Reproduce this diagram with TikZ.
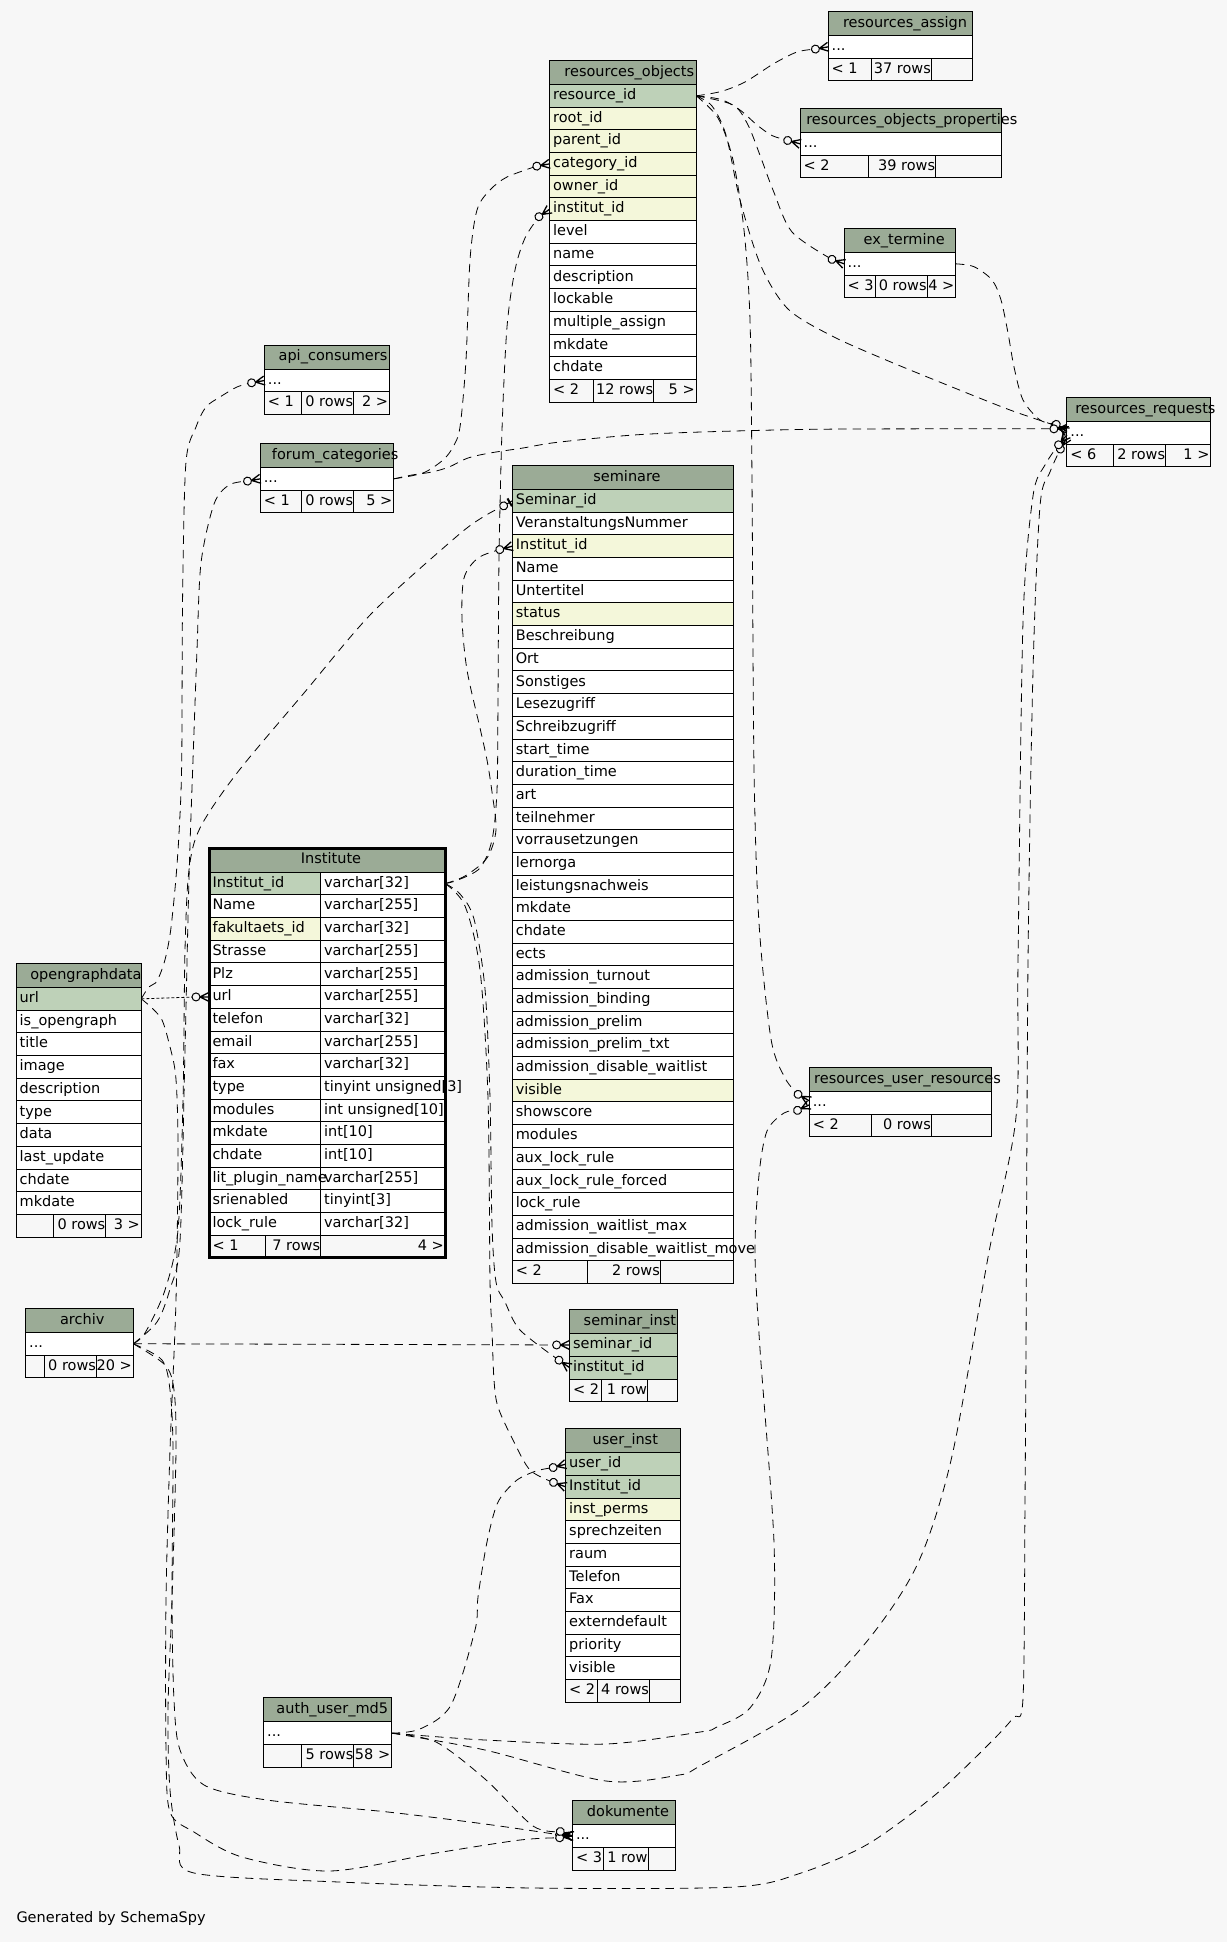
\documentclass[tikz,border=0pt]{standalone}
\usepackage{fontspec}
\setmainfont{DejaVu Sans}
\definecolor{bgc}{HTML}{F7F7F7}
\definecolor{hdrc}{HTML}{9BAB96}
\definecolor{pkc}{HTML}{BED1B8}
\definecolor{fkc}{HTML}{F4F7DA}
\pgfdeclarelayer{bglayer}
\pgfdeclarelayer{edgelayer}
\pgfsetlayers{bglayer,edgelayer,main}
\newcommand\tblfont{\fontsize{14.5pt}{17pt}\selectfont}
\newcommand\threedots{...}
\tikzset{
  cell/.style={draw=black, line width=0.9pt, inner sep=0pt, outer sep=0pt, minimum height=22.68pt, anchor=north west},
  hdrcell/.style={cell, fill=hdrc, minimum height=24.2pt},
  txt/.style={inner sep=0pt, outer sep=0pt, anchor=west, text height=10.5pt, text depth=3pt, font=\tblfont},
  rel/.style={line width=0.8pt, dash pattern=on 8.5pt off 6pt},
  reldot/.style={line width=0.8pt, dash pattern=on 3pt off 2pt},
  mk/.style={line width=1pt, solid},
  crow/.style={line width=1.3pt, solid},
}
\newcommand\dbhead[6]{%
  \node[hdrcell, minimum width={#3-#2}] (#1-h) at ({#2},{#4}) {};
  \node[txt, anchor=center] (#1-ht) at ({#5},{#4+12.1}) {#6};}
\newcommand\dbrows[5]{%
  \foreach[count=\i] \rt/\rf in {#5}{%
    \node[cell, fill=\rf, minimum width={#3-#2}] (#1-\i) at ({#2},{#4+(\i-1)*22.68}) {};
    \node[txt] (#1-\i-t) at ([xshift=3.5pt]#1-\i.west) {\rt};}}
\newcommand\dbfoot[9]{%
  \node[cell, fill=bgc, minimum width={#3-#2}] (#1-f1) at ({#2},{#6}) {};
  \node[cell, fill=bgc, minimum width={#4-#3}] (#1-f2) at ({#3},{#6}) {};
  \node[cell, fill=bgc, minimum width={#5-#4}] (#1-f3) at ({#4},{#6}) {};
  \node[txt] (#1-f1t) at ([xshift=3.5pt]#1-f1.west) {#7};
  \node[txt, anchor=east] (#1-f2t) at ([xshift=-0.5pt]#1-f2.east) {#8};
  \node[txt, anchor=east] (#1-f3t) at ([xshift=-1.5pt]#1-f3.east) {#9};}
% crow's foot with open circle; defines coordinate #3 at the circle centre
\newcommand\crowmark[3][0]{%
  \begin{scope}[shift={(#2)}, rotate=#1]
    \draw[crow] (-9pt,0pt) -- (0pt,4.5pt) (-9pt,0pt) -- (0pt,-4.5pt) (-9pt,0pt) -- (0pt,0pt);
    \draw[mk, fill=bgc] (-13pt,0pt) circle[radius=4pt];
    \coordinate (#3) at (-13pt,0pt);
  \end{scope}}
% bar with open circle (zero or one)
\newcommand\onemark[3][0]{%
  \begin{scope}[shift={(#2)}, rotate=#1]
    \draw[mk] (-10pt,0pt) -- (0pt,0pt);
    \draw[line width=2pt] (-3pt,-4.5pt) -- (-3pt,4.5pt);
    \draw[mk, fill=bgc] (-10pt,0pt) circle[radius=4pt];
    \coordinate (#3) at (-10pt,0pt);
  \end{scope}}

\begin{document}
\begin{tikzpicture}[x=1pt,y=-1pt]
\begin{pgfonlayer}{bglayer}
\fill[bgc] (0,0) rectangle (1227,1942);
\end{pgfonlayer}
\useasboundingbox (0,0) rectangle (1227,1942);

% ---------- tables ----------
\dbhead{ra}{828.2}{972.2}{11.3}{905}{resources\_assign}
\dbrows{ra}{828.2}{972.2}{35.5}{\threedots/white}
\dbfoot{ra}{828.2}{871.3}{931.3}{972.2}{58.18}{< 1}{37 rows}{}

\dbhead{ro}{549.6}{696.2}{60.3}{629.3}{resources\_objects}
\dbrows{ro}{549.6}{696.2}{84.5}{resource\_id/pkc, root\_id/fkc, parent\_id/fkc, category\_id/fkc, owner\_id/fkc, institut\_id/fkc, level/white, name/white, description/white, lockable/white, multiple\_assign/white, mkdate/white, chdate/white}
\dbfoot{ro}{549.6}{593.6}{653.6}{696.2}{379.34}{< 2}{12 rows}{5 >}

\dbhead{rop}{800.2}{1001.1}{108.3}{911.8}{resources\_objects\_properties}
\dbrows{rop}{800.2}{1001.1}{132.5}{\threedots/white}
\dbfoot{rop}{800.2}{868.7}{935.6}{1001.1}{155.18}{< 2}{39 rows}{}

\dbhead{ex}{844.2}{955.8}{228.3}{904.2}{ex\_termine}
\dbrows{ex}{844.2}{955.8}{252.5}{\threedots/white}
\dbfoot{ex}{844.2}{875.3}{927.1}{955.8}{275.18}{< 3}{0 rows}{4 >}

\dbhead{rr}{1066.9}{1210.9}{397.3}{1145.4}{resources\_requests}
\dbrows{rr}{1066.9}{1210.9}{421.5}{\threedots/white}
\dbfoot{rr}{1066.9}{1113.6}{1165.6}{1210.9}{444.18}{< 6}{2 rows}{1 >}

\dbhead{api}{264.4}{389.5}{345}{333}{api\_consumers}
\dbrows{api}{264.4}{389.5}{369.2}{\threedots/white}
\dbfoot{api}{264.4}{301.2}{353.6}{389.5}{391.88}{< 1}{0 rows}{2 >}

\dbhead{fc}{260.3}{393.8}{443.3}{335.2}{forum\_categories}
\dbrows{fc}{260.3}{393.8}{467.5}{\threedots/white}
\dbfoot{fc}{260.3}{301.2}{353.6}{393.8}{490.18}{< 1}{0 rows}{5 >}

\dbhead{sem}{512.3}{733.3}{465.3}{627}{seminare}
\dbrows{sem}{512.3}{733.3}{489.5}{Seminar\_id/pkc, VeranstaltungsNummer/white, Institut\_id/fkc, Name/white, Untertitel/white, status/fkc, Beschreibung/white, Ort/white, Sonstiges/white, Lesezugriff/white, Schreibzugriff/white, start\_time/white, duration\_time/white, art/white, teilnehmer/white, vorrausetzungen/white, lernorga/white, leistungsnachweis/white, mkdate/white, chdate/white, ects/white, admission\_turnout/white, admission\_binding/white, admission\_prelim/white, admission\_prelim\_txt/white, admission\_disable\_waitlist/white, visible/fkc, showscore/white, modules/white, aux\_lock\_rule/white, aux\_lock\_rule\_forced/white, lock\_rule/white, admission\_waitlist\_max/white, admission\_disable\_waitlist\_move/white}
\dbfoot{sem}{512.3}{587.3}{660.3}{733.3}{1260.62}{< 2}{2 rows}{}

\dbhead{ogd}{16.2}{141.3}{963.3}{85.9}{opengraphdata}
\dbrows{ogd}{16.2}{141.3}{987.5}{url/pkc, is\_opengraph/white, title/white, image/white, description/white, type/white, data/white, last\_update/white, chdate/white, mkdate/white}
\dbfoot{ogd}{16.2}{53.4}{105.8}{141.3}{1214.3}{}{0 rows}{3 >}

\dbhead{arc}{25.7}{133.3}{1308.2}{82.2}{archiv}
\dbrows{arc}{25.7}{133.3}{1332.4}{\threedots/white}
\dbfoot{arc}{25.7}{44.6}{96.5}{133.3}{1355.08}{}{0 rows}{20 >}

\dbhead{si}{569.6}{677.7}{1309.4}{629.9}{seminar\_inst}
\dbrows{si}{569.6}{677.7}{1333.6}{seminar\_id/pkc, institut\_id/pkc}
\dbfoot{si}{569.6}{601}{647.6}{677.7}{1378.96}{< 2}{1 row}{}

\dbhead{ui}{565.7}{680}{1428.6}{625.3}{user\_inst}
\dbrows{ui}{565.7}{680}{1452.8}{user\_id/pkc, Institut\_id/pkc, inst\_perms/fkc, sprechzeiten/white, raum/white, Telefon/white, Fax/white, externdefault/white, priority/white, visible/white}
\dbfoot{ui}{565.7}{597.7}{649.5}{680}{1679.6}{< 2}{4 rows}{}

\dbhead{au}{263.7}{391.7}{1697.6}{332.3}{auth\_user\_md5}
\dbrows{au}{263.7}{391.7}{1721.8}{\threedots/white}
\dbfoot{au}{263.7}{301.5}{353.9}{391.7}{1744.48}{}{5 rows}{58 >}

\dbhead{dok}{572.5}{675.7}{1800.4}{628}{dokumente}
\dbrows{dok}{572.5}{675.7}{1824.6}{\threedots/white}
\dbfoot{dok}{572.5}{603.5}{648.1}{675.7}{1847.28}{< 3}{1 row}{}

\dbhead{rur}{809.3}{991.3}{1067.3}{907.5}{resources\_user\_resources}
\dbrows{rur}{809.3}{991.3}{1091.5}{\threedots/white}
\dbfoot{rur}{809.3}{871.3}{931.3}{991.3}{1114.18}{< 2}{0 rows}{}

% Institute (focus table)
\node[hdrcell, minimum width=236.3] (inst-h) at (209,848) {};
\node[txt, anchor=center] (inst-ht) at (331,860.1) {Institute};
\foreach[count=\i] \rt/\rf/\ty in {Institut\_id/pkc/varchar[32], Name/white/varchar[255], fakultaets\_id/fkc/varchar[32], Strasse/white/varchar[255], Plz/white/varchar[255], url/white/varchar[255], telefon/white/varchar[32], email/white/varchar[255], fax/white/varchar[32], type/white/tinyint unsigned[3], modules/white/int unsigned[10], mkdate/white/int[10], chdate/white/int[10], lit\_plugin\_name/white/varchar[255], srienabled/white/tinyint[3], lock\_rule/white/varchar[32]}{%
  \node[cell, fill=\rf, minimum width=111.6] (inst-\i) at (209,{872.2+(\i-1)*22.68}) {};
  \node[cell, fill=white, minimum width=124.7] (inst-\i-ty) at (320.6,{872.2+(\i-1)*22.68}) {};
  \node[txt] (inst-\i-t) at ([xshift=3.5pt]inst-\i.west) {\rt};
  \node[txt] (inst-\i-y) at ([xshift=3.5pt]inst-\i-ty.west) {\ty};
}
\dbfoot{inst}{209}{265.7}{320.6}{445.3}{1235.08}{< 1}{7 rows}{4 >}
\draw[line width=3pt] (inst-h.north west) rectangle (inst-f3.south east);

\node[txt] (gen) at (16.5,1918.4) {Generated by SchemaSpy};

% ---------- end markers (define end coordinates) ----------
\crowmark[10]{ra-1.west}{e1}
\crowmark[-15]{rop-1.west}{e2}
\crowmark[-20]{ex-1.west}{e3}
\crowmark[-25]{[yshift=2pt]rr-1.west}{e4}
\crowmark[-30]{[yshift=2pt]rur-1.west}{e5}
\crowmark[35]{ro-6.west}{e6}
\crowmark[15]{sem-3.west}{e7}
\crowmark[-35]{si-2.west}{e8}
\crowmark[-20]{ui-2.west}{e9}
\crowmark[0]{inst-6.west}{e10}
\crowmark[10]{api-1.west}{e11}
\crowmark[10]{fc-1.west}{e12}
\onemark[30]{sem-1.west}{e13}
\crowmark[0]{si-1.west}{e14}
\crowmark[-5]{dok-1.west}{e15}
\crowmark[8]{dok-1.west}{e16}
\crowmark[60]{[yshift=-5pt]rr-1.west}{e17}
\crowmark[-35]{[yshift=1pt]rr-1.west}{e18}
\crowmark[10]{ro-4.west}{e19}
\crowmark[0]{[yshift=4pt]rr-1.west}{e20}
\crowmark[15]{ui-1.west}{e21}
\crowmark[25]{[yshift=-2pt]rur-1.west}{e22}
\crowmark[50]{[yshift=-2pt]rr-1.west}{e23}
\crowmark[-20]{dok-1.west}{e24}

% ---------- relationships ----------
\begin{pgfonlayer}{edgelayer}
\draw[rel] plot[smooth] coordinates {(ro-1.east) (721,91.5) (745,82) (774,63.5) (797,52) (e1)};
\draw[rel] plot[smooth] coordinates {(ro-1.east) (721,99.5) (740,110) (757,125) (772,135.5) (e2)};
\draw[rel] plot[smooth] coordinates {(ro-1.east) (733,105) (748,125) (761,158) (773,190) (792,232) (e3)};
\draw[rel] plot[smooth] coordinates {(ro-1.east) (712,106) (726,135) (740,200) (761,266) (788,309) (832,336) (886,360) (952,387) (1010,410) (e4)};
\draw[rel] plot[smooth] coordinates {(ro-1.east) (718,118) (733,160) (744,230) (750,320) (752,480) (754,768) (759,923) (771,1039) (785,1078) (e5)};
\draw[rel] plot[smooth] coordinates {(inst-1-ty.east) (458,880) (480,868) (492,840) (497,790) (498,700) (499,560) (502,430) (507,327) (515,270) (525,238) (e6)};
\draw[rel] plot[smooth] coordinates {(inst-1-ty.east) (465,876) (487,858) (496,830) (492,792) (487,760) (480,728) (467,670) (462,619) (464,578) (478,558) (e7)};
\draw[rel] plot[smooth] coordinates {(inst-1-ty.east) (460,894) (474,919) (485,989) (490,1098) (492,1225) (496,1282) (505,1302) (520,1330) (e8)};
\draw[rel] plot[smooth] coordinates {(inst-1-ty.east) (465,906) (480,970) (488,1098) (490,1280) (492,1330) (494,1380) (498,1407) (513,1440) (530,1470) (e9)};
\draw[reldot] (ogd-1.east) -- (e10);
\draw[rel] plot[smooth] coordinates {(ogd-1.east) (148.7,987) (155.5,983) (160.6,973) (165.7,957) (170.7,930) (175.8,880) (179.2,830) (181.7,763) (182.6,597) (185.9,463) (196,427) (206,407) (220,397) (237,387) (e11)};
\draw[rel] plot[smooth] coordinates {(arc-1.east) (157,1322) (170,1289) (180,1241) (185,1050) (189,878) (193,760) (197,650) (201,563) (214,504) (229,485) (e12)};
\draw[rel] plot[smooth] coordinates {(arc-1.east) (145,1333) (165,1290) (178,1230) (183,1100) (185,950) (189,870) (200,828) (237,773) (304,693) (372,613) (456,537) (483,517) (e13)};
\draw[rel] (arc-1.east) -- (e14);
\draw[rel] plot[smooth] coordinates {(arc-1.east) (162,1360) (170,1390) (173,1450) (172,1600) (174,1700) (180,1750) (204,1785) (267,1800) (388,1812) (485,1824) (e15)};
\draw[rel] plot[smooth] coordinates {(ogd-1.east) (152,1008) (162,1020) (169,1043) (175.8,1077) (178,1150) (176,1300) (170,1450) (166,1600) (166,1750) (170,1812) (194,1832) (242,1857) (330,1871) (436,1853) (520,1840) (e16)};
\draw[rel] plot[smooth] coordinates {(arc-1.east) (165,1365) (174,1390) (176,1450) (172,1600) (168,1710) (170,1790) (179,1845) (194,1873) (339,1882) (533,1888) (734,1887) (801,1873) (868,1844) (935,1795) (986,1747) (1013,1718) (1023,1698) (1025,1500) (1026,1349) (1028,962) (1033,671) (1040,506) (1050,472) (e17)};
\draw[rel] plot[smooth] coordinates {(ex-1.east) (974,266.7) (992,280) (1001,300) (1008,333) (1014,367) (1023,400) (1040,420) (e18)};
\draw[rel] plot[smooth] coordinates {(fc-1.east) (423,473) (443,460) (453,447) (460,427) (466,360) (470,260) (477,210) (490,190) (507,177) (e19)};
\draw[rel] plot[smooth] coordinates {(fc-1.east) (412,475) (432,472) (449,467) (468,458) (490,453) (523,448) (560,442) (650,434) (800,429.5) (950,428.8) (e20)};
\draw[rel] plot[smooth] coordinates {(au-1.east) (420,1729) (451,1705) (475,1630) (478,1597) (486,1547) (494,1513) (501,1497) (517,1480) (536,1471) (e21)};
\draw[rel] plot[smooth] coordinates {(au-1.east) (485,1740) (606,1744) (700,1732) (717,1727) (750,1708) (771,1660) (774,1543) (760,1349) (755,1252) (759,1175) (767,1131) (784,1113) (e22)};
\draw[rel] plot[smooth] coordinates {(au-1.east) (485,1750) (606,1781) (679,1775) (700,1766) (801,1708) (868,1640) (918,1563) (952,1456) (989,1252) (1016,1117) (1018,962) (1023,622) (1033,496) (1045,465) (e23)};
\draw[rel] plot[smooth] coordinates {(au-1.east) (436,1742) (485,1779) (533,1826) (e24)};
\end{pgfonlayer}
\end{tikzpicture}
\end{document}
